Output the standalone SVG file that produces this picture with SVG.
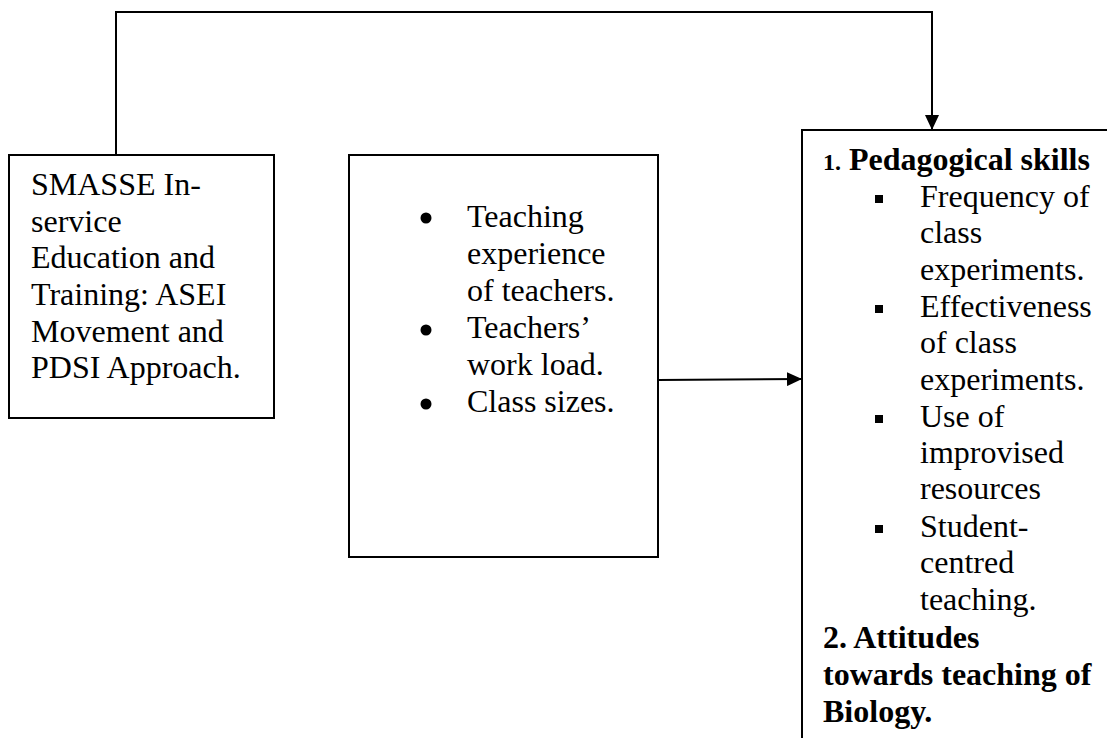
<svg xmlns="http://www.w3.org/2000/svg" width="1107" height="738" viewBox="0 0 1107 738">
<defs>
<style>
.box{fill:#fff;stroke:#000;stroke-width:2}
.t{font-family:"Liberation Serif","Times New Roman",serif;font-size:32px;fill:#000}
.b{font-weight:bold}
.conn{fill:none;stroke:#000;stroke-width:2}
</style>
<marker id="ah" markerWidth="15" markerHeight="14" refX="15" refY="7" orient="auto" markerUnits="userSpaceOnUse">
<path d="M0,0 L15,7 L0,14 Z" fill="#000"/>
</marker>
</defs>
<rect width="1107" height="738" fill="#fff"/>
<g id="connectors">
<polyline class="conn" points="116,155 116,12 932,12 932,130" marker-end="url(#ah)"/>
<line class="conn" x1="658" y1="380" x2="802" y2="379" marker-end="url(#ah)"/>
</g>
<g id="node-smasse">
<rect class="box" x="9" y="155" width="265" height="263"/>
<text class="t" x="31" y="195">SMASSE In-</text>
<text class="t" x="31" y="232">service</text>
<text class="t" x="31" y="268">Education and</text>
<text class="t" x="31" y="305">Training: ASEI</text>
<text class="t" x="31" y="342">Movement and</text>
<text class="t" x="31" y="378">PDSI Approach.</text>
</g>
<g id="node-factors">
<rect class="box" x="349" y="155" width="309" height="402"/>
<circle cx="426" cy="218" r="5.5"/>
<circle cx="426" cy="330" r="5.5"/>
<circle cx="426" cy="404" r="5.5"/>
<text class="t" x="467" y="227">Teaching</text>
<text class="t" x="467" y="264">experience</text>
<text class="t" x="467" y="301">of teachers.</text>
<text class="t" x="467" y="338">Teachers’</text>
<text class="t" x="467" y="375">work load.</text>
<text class="t" x="467" y="412">Class sizes.</text>
</g>
<g id="node-outcomes">
<rect class="box" x="802" y="130" width="400" height="700"/>
<text class="t b" x="823" y="170"><tspan font-size="24">1.</tspan> Pedagogical skills</text>
<rect x="875" y="195" width="8" height="8"/>
<rect x="875" y="305" width="8" height="8"/>
<rect x="875" y="415" width="8" height="8"/>
<rect x="875" y="525" width="8" height="8"/>
<text class="t" x="920" y="207">Frequency of</text>
<text class="t" x="920" y="243">class</text>
<text class="t" x="920" y="280">experiments.</text>
<text class="t" x="920" y="317">Effectiveness</text>
<text class="t" x="920" y="353">of class</text>
<text class="t" x="920" y="390">experiments.</text>
<text class="t" x="920" y="427">Use of</text>
<text class="t" x="920" y="463">improvised</text>
<text class="t" x="920" y="499">resources</text>
<text class="t" x="920" y="537">Student-</text>
<text class="t" x="920" y="573">centred</text>
<text class="t" x="920" y="610">teaching.</text>
<text class="t b" x="823" y="648">2. Attitudes</text>
<text class="t b" x="823" y="685">towards teaching of</text>
<text class="t b" x="823" y="722">Biology.</text>
</g>
</svg>
